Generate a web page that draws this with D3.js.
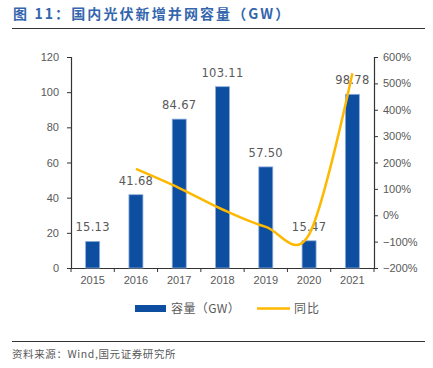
<!DOCTYPE html>
<html>
<head>
<meta charset="utf-8">
<script src="https://cdn.jsdelivr.net/npm/d3@7"></script>
<style>
  body { margin: 0; background: #fff; }
  svg { display: block; font-family: "Noto Sans CJK SC", "Liberation Sans", sans-serif; }
</style>
</head>
<body>
<div id="chart"></div>
<script>
// data
const years = ['2015', '2016', '2017', '2018', '2019', '2020', '2021'];
const capacity = [15.13, 41.68, 84.67, 103.11, 57.50, 15.47, 98.78];
const yoy = [null, 175.5, 103.1, 21.8, -44.2, -73.1, 538.5]; // %
const leftTicks = [0, 20, 40, 60, 80, 100, 120];
const rightTicks = [-200, -100, 0, 100, 200, 300, 400, 500, 600];

const W = 433, H = 368;
const m = { left: 71, right: 374, top: 57, bottom: 268 };

const svg = d3.select('#chart').append('svg').attr('width', W).attr('height', H);

// title
svg.append('text')
    .attr('x', 13).attr('y', 19)
    .attr('fill', '#3466AE').attr('font-size', 14).attr('font-weight', 'bold')
    .attr('letter-spacing', 2.1)
    .text('图 11：国内光伏新增并网容量（GW）');
svg.append('line').attr('x1', 12).attr('x2', 425).attr('y1', 28.5).attr('y2', 28.5)
    .attr('stroke', '#333').attr('stroke-width', 1);

const x = d3.scaleBand().domain(years).range([m.left, m.right]);
const yL = d3.scaleLinear().domain([0, 120]).range([m.bottom, m.top]);
const yR = d3.scaleLinear().domain([-200, 600]).range([m.bottom, m.top]);

// left axis
const gL = svg.append('g').attr('transform', `translate(${m.left},0)`)
    .call(d3.axisLeft(yL).tickValues(leftTicks).tickSize(4).tickPadding(8));
// right axis
const gR = svg.append('g').attr('transform', `translate(${m.right},0)`)
    .call(d3.axisRight(yR).tickValues(rightTicks).tickSize(4).tickPadding(5)
        .tickFormat(d => (d < 0 ? '\u2212' + Math.abs(d) : d) + '%'));
// bottom axis with ticks at band edges
const gB = svg.append('g').attr('transform', `translate(0,${m.bottom})`)
    .call(d3.axisBottom(x).tickSize(0).tickPadding(8));
gB.selectAll('.edge').data(d3.range(years.length + 1)).enter().append('line')
    .attr('x1', i => m.left + i * x.step()).attr('x2', i => m.left + i * x.step())
    .attr('y1', 0).attr('y2', 4).attr('stroke', '#333');

[gL, gR, gB].forEach(g => {
    g.select('.domain').attr('stroke', '#333').attr('stroke-width', 1.2);
    g.selectAll('.tick line').attr('stroke', '#333');
    g.selectAll('text').attr('fill', '#595959').attr('font-size', 11)
        .attr('font-family', '"Liberation Sans", Arial, sans-serif');
});

// bars
const bw = 14;
svg.selectAll('.bar').data(capacity).enter().append('rect')
    .attr('x', (d, i) => x(years[i]) + x.bandwidth() / 2 - bw / 2)
    .attr('y', d => yL(d))
    .attr('width', bw)
    .attr('height', d => yL(0) - yL(d))
    .attr('fill', '#0D4EA0')
    .attr('stroke', '#8FAEDB').attr('stroke-width', 0.8);

// bar labels
svg.selectAll('.lbl').data(capacity).enter().append('text')
    .attr('x', (d, i) => x(years[i]) + x.bandwidth() / 2)
    .attr('y', d => yL(d) - 10)
    .attr('text-anchor', 'middle')
    .attr('fill', '#595959').attr('font-size', 11.5)
    .attr('font-family', '"DejaVu Sans", sans-serif')
    .attr('letter-spacing', 0.3)
    .text(d => d.toFixed(2));

// yoy line
const pts = yoy.map((v, i) => [x(years[i]) + x.bandwidth() / 2, v]).filter(p => p[1] !== null);
const line = d3.line().x(p => p[0]).y(p => yR(p[1])).curve(d3.curveCardinal.tension(0));
svg.append('path').datum(pts)
    .attr('d', line)
    .attr('fill', 'none').attr('stroke', '#FFB800').attr('stroke-width', 2.5);

// legend
svg.append('rect').attr('x', 135).attr('y', 305).attr('width', 31).attr('height', 7).attr('fill', '#0D4EA0');
svg.append('text').attr('x', 171).attr('y', 312.5).attr('font-size', 12).attr('fill', '#595959')
    .attr('letter-spacing', 0.4)
    .text('容量（GW）');
svg.append('line').attr('x1', 257).attr('x2', 290).attr('y1', 308.5).attr('y2', 308.5)
    .attr('stroke', '#FFB800').attr('stroke-width', 2.5);
svg.append('text').attr('x', 294).attr('y', 312.5).attr('font-size', 12).attr('fill', '#595959')
    .attr('letter-spacing', 1)
    .text('同比');

// footer
svg.append('line').attr('x1', 12).attr('x2', 425).attr('y1', 341.5).attr('y2', 341.5)
    .attr('stroke', '#333').attr('stroke-width', 1);
svg.append('text').attr('x', 12).attr('y', 358).attr('font-size', 10.5).attr('fill', '#595959')
    .attr('letter-spacing', 0.6)
    .text('资料来源：Wind,国元证券研究所');
</script>
</body>
</html>
